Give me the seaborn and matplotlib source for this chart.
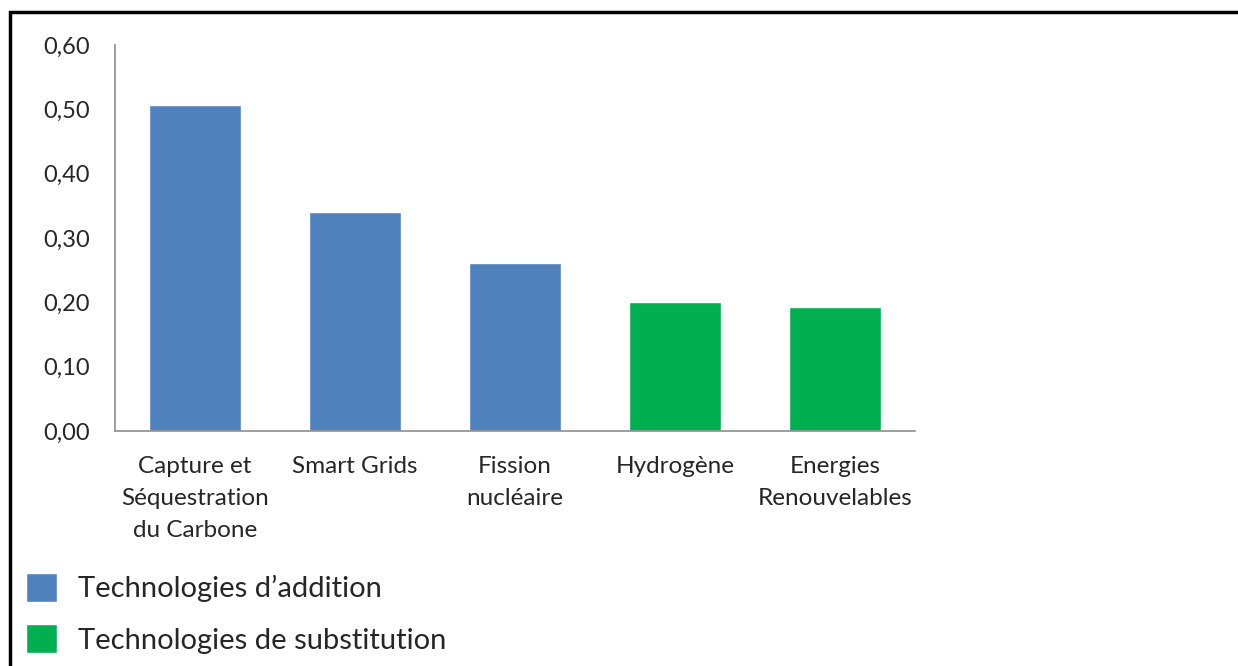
import matplotlib
matplotlib.use("Agg")
import matplotlib.pyplot as plt
import seaborn as sns
import pandas as pd
from matplotlib.patches import Rectangle

# === Data
categories = ["Capture et\nSéquestration\ndu Carbone", "Smart Grids", "Fission\nnucléaire",
              "Hydrogène", "Energies\nRenouvelables"]
values = [0.507, 0.340, 0.261, 0.200, 0.192]
groups = ["Technologies d\u2019addition"] * 3 + ["Technologies de substitution"] * 2
palette = {"Technologies d\u2019addition": "#4f81bd", "Technologies de substitution": "#00b050"}
yticks = [0.0, 0.1, 0.2, 0.3, 0.4, 0.5, 0.6]

df = pd.DataFrame({"cat": categories, "val": values, "grp": groups})

sns.set_style("white")
plt.rcParams["font.family"] = ["Lato", "DejaVu Sans"]

fig = plt.figure(figsize=(12.38, 6.66), dpi=100)
ax = fig.add_axes([115 / 1238, 1 - 431 / 666, 800 / 1238, 386 / 666])

sns.barplot(data=df, x="cat", y="val", hue="grp", palette=palette, dodge=False,
            width=0.57, saturation=1, ax=ax, legend=True)

ax.set_xlim(-0.5, 4.5)
ax.set_ylim(0, 0.6)
ax.set_yticks(yticks)
ax.set_yticklabels([f"{v:.2f}".replace(".", ",") for v in yticks])
ax.set_xlabel("")
ax.set_ylabel("")
ax.tick_params(axis="y", length=0, pad=18, labelsize=17)
ax.tick_params(axis="x", length=0, pad=18, labelsize=17.5)
for t in ax.get_xticklabels():
    t.set_linespacing(1.65)
    t.set_verticalalignment("top")

for s in ["top", "right"]:
    ax.spines[s].set_visible(False)
for s in ["left", "bottom"]:
    ax.spines[s].set_color("#969696")
    ax.spines[s].set_linewidth(1.3)

# legend below the chart
handles, labels = ax.get_legend_handles_labels()
ax.legend_.remove()
fig.legend(handles, labels, loc="upper left", bbox_to_anchor=(26 / 1238, 1 - 573 / 666),
           frameon=False, fontsize=21, handlelength=1.07, handleheight=1.15,
           handletextpad=0.7, labelspacing=0.75, borderpad=0, borderaxespad=0)

# black frame around the figure
fig.patches.append(Rectangle((10 / 1238, -0.05), 1.1, 1 - 12 / 666 + 0.05, transform=fig.transFigure,
                             fill=False, edgecolor="black", linewidth=2.5))

plt.savefig("out.png", dpi=100)
plt.close()
